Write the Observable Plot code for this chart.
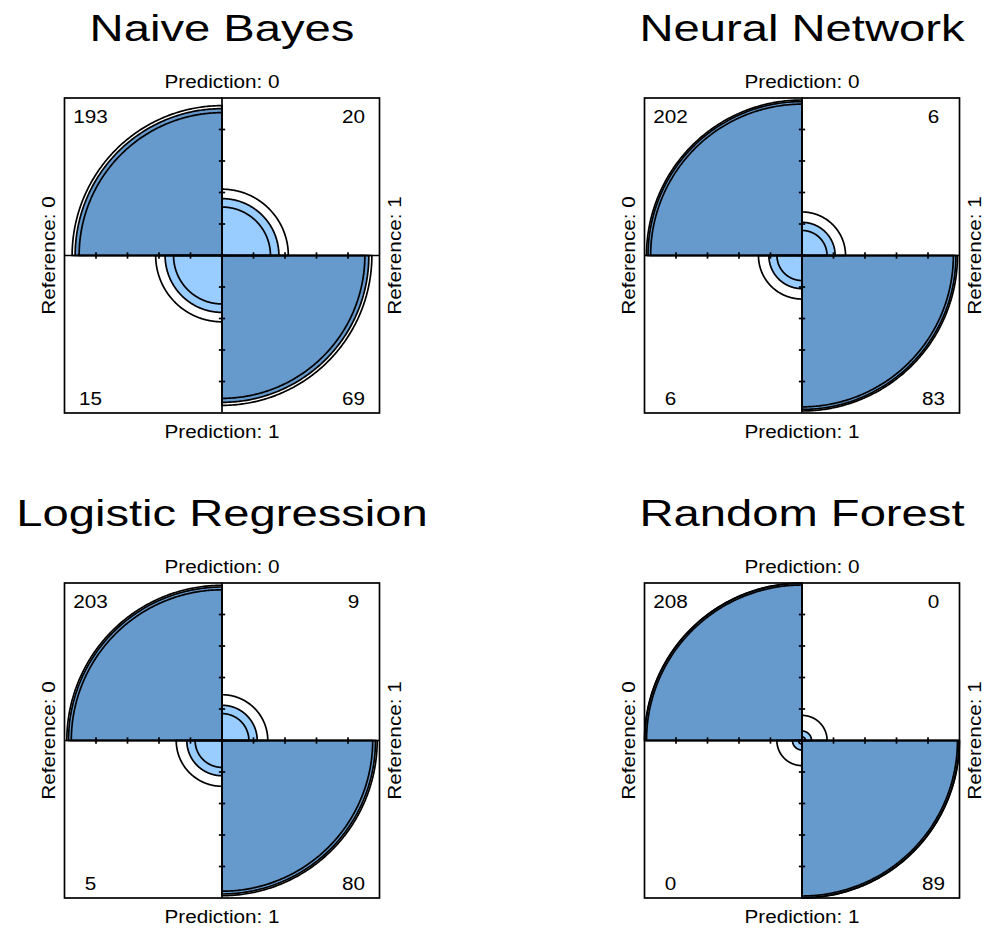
<!DOCTYPE html>
<html><head><meta charset="utf-8">
<script src="https://cdn.jsdelivr.net/npm/d3@7"></script>
<script src="https://cdn.jsdelivr.net/npm/@observablehq/plot@0.6"></script>
<style>html,body{margin:0;padding:0;background:#fff} #chart svg{display:block}</style>
</head><body><div id="chart"></div>
<script>
// ---- data ----
const models = ["Naive Bayes", "Neural Network", "Logistic Regression", "Random Forest"];
// confusion-matrix cells: [Prediction 0 / Reference 0, P0/R1, P1/R0, P1/R1]
const p0r0 = [193, 202, 203, 208];
const p0r1 = [20, 6, 9, 0];
const p1r0 = [15, 6, 5, 0];
const p1r1 = [69, 83, 80, 89];
const predLabels = ["Prediction: 0", "Prediction: 1"];
const refLabels = ["Reference: 0", "Reference: 1"];
const ticks = [-0.8, -0.6, -0.4, -0.2, 0, 0.2, 0.4, 0.6, 0.8];
const palette = {diag: "#6699CC", off: "#99CCFF"};
const confLevel = 0.95;

// ---- fourfold standardisation (as R's fourfoldplot, std = "margins") ----
function odds(a, b, c, d) {
  if ([a, b, c, d].some(v => v === 0)) { a += 0.5; b += 0.5; c += 0.5; d += 0.5; }
  return {or: (a * d) / (b * c), se: Math.sqrt(1 / a + 1 / b + 1 / c + 1 / d)};
}
const zq = d3.randomNormal ? 1.959963985 : 1.96; // qnorm(0.975)
const toU = or => { const s = Math.sqrt(or); return s / (1 + s); };

// quadrant definitions: which cell, angular span, diagonal or not
const quads = [
  {cell: "p0r0", a0: 90, a1: 180, diag: true},
  {cell: "p1r0", a0: 180, a1: 270, diag: false},
  {cell: "p0r1", a0: 0, a1: 90, diag: false},
  {cell: "p1r1", a0: 270, a1: 360, diag: true}
];

const panels = models.map((m, i) => {
  const o = odds(p0r0[i], p0r1[i], p1r0[i], p1r1[i]);
  const lo = o.or * Math.exp(-zq * o.se), hi = o.or * Math.exp(zq * o.se);
  return {
    model: m, col: i % 2, row: Math.floor(i / 2),
    p0r0: p0r0[i], p0r1: p0r1[i], p1r0: p1r0[i], p1r1: p1r1[i],
    u: toU(o.or), uCI: [toU(lo), toU(hi)]
  };
});

function arc(out, p, q, r, key, color) {
  const n = 160;
  out.push({x: 0, y: 0, col: p.col, row: p.row, key, color});
  for (let k = 0; k <= n; ++k) {
    const t = (q.a0 + (q.a1 - q.a0) * k / n) * Math.PI / 180;
    out.push({x: r * Math.cos(t), y: r * Math.sin(t), col: p.col, row: p.row, key, color});
  }
  out.push({x: 0, y: 0, col: p.col, row: p.row, key, color});
}

const pies = [], rings = [];
panels.forEach((p, i) => {
  quads.forEach((q, j) => {
    arc(pies, p, q, Math.sqrt(q.diag ? p.u : 1 - p.u), `${i}-${j}`, q.diag ? palette.diag : palette.off);
    p.uCI.forEach((u, k) => arc(rings, p, q, Math.sqrt(q.diag ? u : 1 - u), `${i}-${j}-${k}`, "none"));
  });
});

const fxy = {fx: "col", fy: "row"};
const lw = 1.7;

const chart = Plot.plot({
  width: 989,
  height: 928,
  marginLeft: 64, marginRight: 30, marginTop: 97.5, marginBottom: 30.5,
  style: {fontFamily: "'Liberation Sans', Arial, sans-serif", background: "white", color: "black", overflow: "visible"},
  x: {domain: [-1, 1], axis: null},
  y: {domain: [-1, 1], axis: null},
  fx: {domain: [0, 1], axis: null, paddingInner: 265 / 580, paddingOuter: 0, round: false},
  fy: {domain: [0, 1], axis: null, paddingInner: 170 / 485, paddingOuter: 0, round: false},
  facet: {marginTop: 0, marginRight: 0, marginBottom: 0, marginLeft: 0},
  marks: [
    Plot.line(pies.filter(d => d.color === palette.diag), {x: "x", y: "y", z: "key", ...fxy, fill: palette.diag, stroke: "black", strokeWidth: lw, curve: "linear"}),
    Plot.line(pies.filter(d => d.color === palette.off), {x: "x", y: "y", z: "key", ...fxy, fill: palette.off, stroke: "black", strokeWidth: lw, curve: "linear"}),
    Plot.line(rings, {x: "x", y: "y", z: "key", ...fxy, fill: "none", stroke: "black", strokeWidth: lw, curve: "linear"}),
    Plot.frame({stroke: "black", strokeWidth: lw}),
    Plot.ruleY([0], {stroke: "black", strokeWidth: lw}),
    Plot.ruleX([0], {stroke: "black", strokeWidth: lw}),
    Plot.link(ticks, {x1: d => d, x2: d => d, y1: -0.02, y2: 0.02, stroke: "black", strokeWidth: lw}),
    Plot.link(ticks, {y1: d => d, y2: d => d, x1: -0.02, x2: 0.02, stroke: "black", strokeWidth: lw}),
    // titles
    Plot.text(panels, {...fxy, text: "model", frameAnchor: "top", dy: -69, fontSize: 36, lineAnchor: "middle"}),
    // margin labels
    Plot.text([predLabels[0]], {frameAnchor: "top", dy: -15.5, fontSize: 18, lineAnchor: "middle"}),
    Plot.text([predLabels[1]], {frameAnchor: "bottom", dy: 19, fontSize: 18, lineAnchor: "middle"}),
    Plot.text([refLabels[0]], {frameAnchor: "left", dx: -15, rotate: -90, fontSize: 18, lineAnchor: "middle", textAnchor: "middle"}),
    Plot.text([refLabels[1]], {frameAnchor: "right", dx: 16, rotate: -90, fontSize: 18, lineAnchor: "middle", textAnchor: "middle"}),
    // counts
    Plot.text(panels, {...fxy, text: d => String(d.p0r0), frameAnchor: "top-left", dx: 26, dy: 19, textAnchor: "middle", lineAnchor: "middle", fontSize: 18}),
    Plot.text(panels, {...fxy, text: d => String(d.p0r1), frameAnchor: "top-right", dx: -26, dy: 19, textAnchor: "middle", lineAnchor: "middle", fontSize: 18}),
    Plot.text(panels, {...fxy, text: d => String(d.p1r0), frameAnchor: "bottom-left", dx: 26, dy: -14, textAnchor: "middle", lineAnchor: "middle", fontSize: 18}),
    Plot.text(panels, {...fxy, text: d => String(d.p1r1), frameAnchor: "bottom-right", dx: -26, dy: -14, textAnchor: "middle", lineAnchor: "middle", fontSize: 18})
  ]
});

document.getElementById("chart").append(chart);

// widen glyphs like the reference rendering
chart.querySelectorAll("text").forEach(t => {
  const g = t.closest("[font-size]");
  const fs = g ? parseFloat(g.getAttribute("font-size")) : 18;
  const f = fs >= 30 ? 1.31 : 1.15;
  const L = t.getComputedTextLength();
  if (L > 0) {
    t.setAttribute("textLength", (L * f).toFixed(1));
    t.setAttribute("lengthAdjust", "spacingAndGlyphs");
  }
});
</script>
</body></html>
